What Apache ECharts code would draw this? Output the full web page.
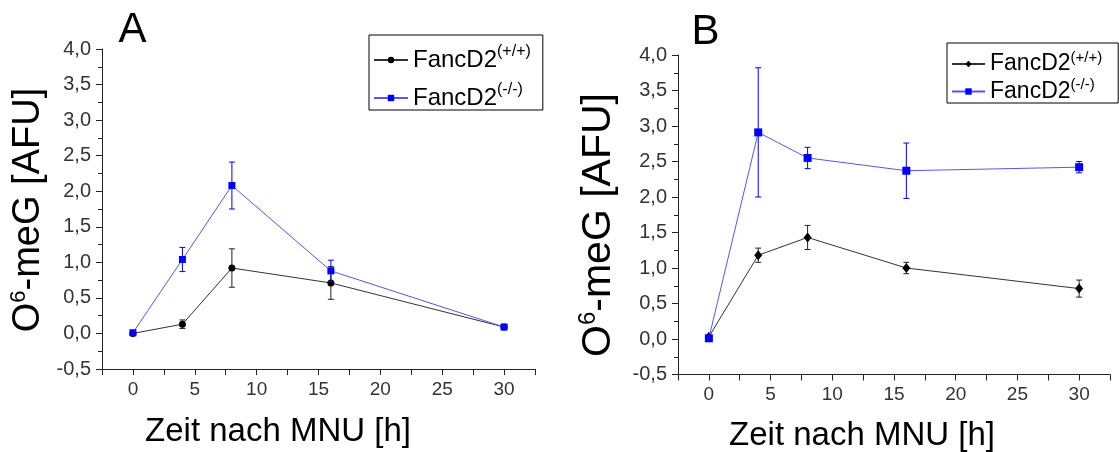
<!DOCTYPE html>
<html>
<head>
<meta charset="utf-8">
<script src="https://cdn.jsdelivr.net/npm/echarts@6/dist/echarts.min.js"></script>
<style>
  html, body { margin: 0; padding: 0; background: #fff; }
  #chart { width: 1119px; height: 452px; }
</style>
</head>
<body>
<div id="chart"></div>
<script>
// Zeitpunkte nach MNU-Gabe (h)
const hours = [0, 4, 8, 16, 30];

// Panel A
const aWt = [0.0, 0.13, 0.92, 0.71, 0.09];
const aWtErr = [0, 0.06, 0.27, 0.23, 0.02];
const aKo = [0.01, 1.04, 2.08, 0.88, 0.09];
const aKoErr = [0, 0.17, 0.33, 0.15, 0.02];

// Panel B
const bWt = [0.03, 1.18, 1.43, 1.0, 0.71];
const bWtErr = [0, 0.10, 0.17, 0.08, 0.12];
const bKo = [0.01, 2.91, 2.55, 2.37, 2.42];
const bKoErr = [0, 0.91, 0.15, 0.39, 0.08];

const xTicks = [0, 5, 10, 15, 20, 25, 30];
const FONT = '"Liberation Sans", Arial, sans-serif';
const BLACK = '#000';
const BLUE = '#0000ff';

const pairs = (vals) => hours.map((h, i) => [h, vals[i]]);
const bars = (vals, errs) => hours.map((h, i) => [h, vals[i] - errs[i], vals[i] + errs[i]]);

const errorBars = (color) => (params, api) => {
    const x = api.value(0);
    const lo = api.coord([x, api.value(1)]);
    const hi = api.coord([x, api.value(2)]);
    const w = 3;
    const style = { stroke: color, lineWidth: 1 };
    return {
        type: 'group',
        children: [
            { type: 'line', shape: { x1: hi[0], y1: hi[1], x2: lo[0], y2: lo[1] }, style },
            { type: 'line', shape: { x1: hi[0] - w, y1: hi[1], x2: hi[0] + w, y2: hi[1] }, style },
            { type: 'line', shape: { x1: lo[0] - w, y1: lo[1], x2: lo[0] + w, y2: lo[1] }, style }
        ]
    };
};

const xAxisBase = (idx) => ({
    type: 'value',
    gridIndex: idx,
    min: -2.5,
    max: 32.5,
    interval: 2.5,
    axisLine: { show: true, onZero: false, lineStyle: { color: '#222', width: 1 } },
    axisTick: { show: true, length: 6, lineStyle: { color: '#222' } },
    axisLabel: {
        margin: 11,
        color: '#333',
        fontSize: 19,
        fontFamily: FONT,
        showMinLabel: true,
        showMaxLabel: true,
        formatter: v => (xTicks.indexOf(v) > -1 ? String(v) : '')
    },
    splitLine: { show: false }
});

const yAxisBase = (idx) => ({
    type: 'value',
    gridIndex: idx,
    min: -0.5,
    max: 4.0,
    interval: 0.5,
    axisLine: { show: true, onZero: false, lineStyle: { color: '#222', width: 1 } },
    axisTick: { show: true, length: 6, lineStyle: { color: '#222' } },
    minorTick: { show: true, splitNumber: 2, length: 4, lineStyle: { color: '#222' } },
    axisLabel: {
        margin: 11,
        color: '#333',
        fontSize: 20,
        fontFamily: FONT,
        formatter: v => v.toFixed(1).replace('.', ',')
    },
    splitLine: { show: false }
});

const legendNames = {
    aWt: '{b|FancD2}{s|(+/+)}',
    aKo: '{b|FancD2}{s|(-/-)}',
    bWt: '{b|FancD2}{s|(+/+)}',
    bKo: '{b|FancD2}{s|(-/-)}'
};

const chart = echarts.init(document.getElementById('chart'));
chart.setOption({
    animation: false,
    backgroundColor: '#fff',
    textStyle: { fontFamily: FONT },
    grid: [
        { left: 102, top: 49, width: 433, height: 320 },
        { left: 678, top: 55, width: 432, height: 319.5 }
    ],
    xAxis: [xAxisBase(0), xAxisBase(1)],
    yAxis: [yAxisBase(0), yAxisBase(1)],
    legend: [
        {
            data: ['aWt', 'aKo'],
            orient: 'vertical',
            left: 369,
            top: 35,
            itemWidth: 34,
            itemHeight: 8,
            itemGap: 10,
            padding: [9, 12, 0, 4],
            borderColor: '#000',
            borderWidth: 1,
            selectedMode: false,
            formatter: n => legendNames[n],
            textStyle: {
                color: '#000',
                rich: {
                    b: { fontSize: 24, lineHeight: 32, fontFamily: FONT, color: '#000' },
                    s: { fontSize: 16, lineHeight: 17, verticalAlign: 'top', fontFamily: FONT, color: '#000' }
                }
            }
        },
        {
            data: ['bWt', 'bKo'],
            orient: 'vertical',
            left: 947,
            top: 43,
            itemWidth: 33,
            itemHeight: 8,
            itemGap: 2,
            padding: [7, 16, 0, 4],
            borderColor: '#000',
            borderWidth: 1,
            selectedMode: false,
            formatter: n => legendNames[n],
            textStyle: {
                color: '#000',
                rich: {
                    b: { fontSize: 23, lineHeight: 28, fontFamily: FONT, color: '#000' },
                    s: { fontSize: 15, lineHeight: 16, verticalAlign: 'top', fontFamily: FONT, color: '#000' }
                }
            }
        }
    ],
    graphic: [
        { type: 'text', x: 132.5, y: 30, style: { text: 'A', fontSize: 42, fontFamily: FONT, fill: '#000', align: 'center', verticalAlign: 'middle' } },
        { type: 'text', x: 705.5, y: 32, style: { text: 'B', fontSize: 42, fontFamily: FONT, fill: '#000', align: 'center', verticalAlign: 'middle' } },
        {
            type: 'text', x: 29, y: 210, rotation: Math.PI / 2,
            style: {
                text: '{b|O}{s|6}{b|-meG [AFU]}', align: 'center', verticalAlign: 'middle',
                rich: {
                    b: { fontSize: 38, lineHeight: 42, fontFamily: FONT, fill: '#000' },
                    s: { fontSize: 22, lineHeight: 24, verticalAlign: 'top', fontFamily: FONT, fill: '#000' }
                }
            }
        },
        {
            type: 'text', x: 599, y: 225, rotation: Math.PI / 2,
            style: {
                text: '{b|O}{s|6}{b|-meG [AFU]}', align: 'center', verticalAlign: 'middle',
                rich: {
                    b: { fontSize: 41, lineHeight: 46, fontFamily: FONT, fill: '#000' },
                    s: { fontSize: 24, lineHeight: 26, verticalAlign: 'top', fontFamily: FONT, fill: '#000' }
                }
            }
        },
        { type: 'text', x: 278, y: 432, style: { text: 'Zeit nach MNU [h]', fontSize: 33, fontFamily: FONT, fill: '#000', align: 'center', verticalAlign: 'middle' } },
        { type: 'text', x: 862, y: 436, style: { text: 'Zeit nach MNU [h]', fontSize: 33, fontFamily: FONT, fill: '#000', align: 'center', verticalAlign: 'middle' } }
    ],
    series: [
        // Panel A
        { type: 'custom', xAxisIndex: 0, yAxisIndex: 0, renderItem: errorBars('#222'), data: bars(aWt, aWtErr), z: 1 },
        {
            name: 'aWt', type: 'line', xAxisIndex: 0, yAxisIndex: 0, data: pairs(aWt),
            symbol: 'circle', symbolSize: 7, lineStyle: { color: '#333', width: 1 }, itemStyle: { color: BLACK }, z: 2
        },
        { type: 'custom', xAxisIndex: 0, yAxisIndex: 0, renderItem: errorBars(BLUE), data: bars(aKo, aKoErr), z: 3 },
        {
            name: 'aKo', type: 'line', xAxisIndex: 0, yAxisIndex: 0, data: pairs(aKo),
            symbol: 'rect', symbolSize: 7, lineStyle: { color: '#5555ff', width: 1 }, itemStyle: { color: BLUE }, z: 4
        },
        // Panel B
        { type: 'custom', xAxisIndex: 1, yAxisIndex: 1, renderItem: errorBars('#222'), data: bars(bWt, bWtErr), z: 1 },
        {
            name: 'bWt', type: 'line', xAxisIndex: 1, yAxisIndex: 1, data: pairs(bWt),
            symbol: 'diamond', symbolSize: [8, 10], lineStyle: { color: '#333', width: 1 }, itemStyle: { color: BLACK }, z: 2
        },
        { type: 'custom', xAxisIndex: 1, yAxisIndex: 1, renderItem: errorBars(BLUE), data: bars(bKo, bKoErr), z: 3 },
        {
            name: 'bKo', type: 'line', xAxisIndex: 1, yAxisIndex: 1, data: pairs(bKo),
            symbol: 'rect', symbolSize: 8, lineStyle: { color: '#5555ff', width: 1 }, itemStyle: { color: BLUE }, z: 4
        }
    ]
});
</script>
</body>
</html>
